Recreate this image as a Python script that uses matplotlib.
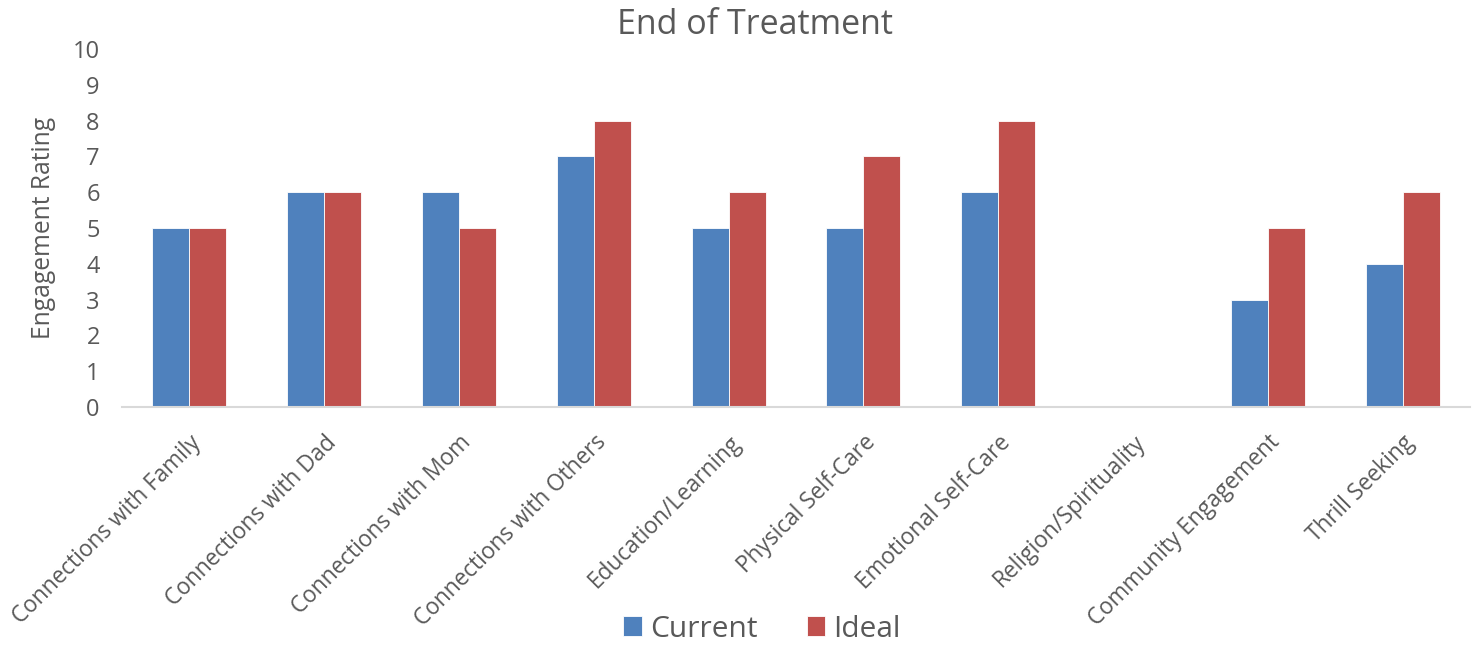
import matplotlib
matplotlib.use("Agg")
import matplotlib.pyplot as plt
import numpy as np

categories = [
    "Connections with Family", "Connections with Dad", "Connections with Mom",
    "Connections with Others", "Education/Learning", "Physical Self-Care",
    "Emotional Self-Care", "Religion/Spirituality", "Community Engagement",
    "Thrill Seeking",
]
current = [5, 6, 6, 7, 5, 5, 6, 0, 3, 4]
ideal = [5, 6, 5, 8, 6, 7, 8, 0, 5, 6]
y_ticks = list(range(0, 11))

BLUE = "#4F81BD"
RED = "#C0504D"
TEXT = "#595959"

plt.rcParams["font.family"] = ["Open Sans", "DejaVu Sans"]

fig = plt.figure(figsize=(14.74, 6.47), dpi=100)
ax = fig.add_axes([122 / 1474, 1 - 407 / 647, 1348 / 1474, 358 / 647])

x = np.arange(len(categories))
w = 0.275
ax.bar(x - w / 2, current, width=w, color=BLUE, edgecolor="white", linewidth=0.6, label="Current")
ax.bar(x + w / 2, ideal, width=w, color=RED, edgecolor="white", linewidth=0.6, label="Ideal")

ax.set_xlim(-0.5, len(categories) - 0.5)
ax.set_ylim(0, 10)
ax.set_yticks(y_ticks)
ax.tick_params(axis="y", length=0, labelsize=17, labelcolor=TEXT, pad=16)
ax.tick_params(axis="x", length=0, labelsize=16.3, labelcolor=TEXT, pad=17)
ax.set_xticks(x)
ax.set_xticklabels(categories, rotation=45, ha="right", va="top", rotation_mode="anchor")

for s in ["top", "right", "left"]:
    ax.spines[s].set_visible(False)
ax.spines["bottom"].set_color("#D9D9D9")
ax.spines["bottom"].set_linewidth(1.5)

ax.set_ylabel("Engagement Rating", fontsize=17.7, color=TEXT, labelpad=12)
fig.text(755 / 1474, 1 - 25 / 647, "End of Treatment", fontsize=24.5, color=TEXT,
         ha="center", va="center")

fig.legend(loc="lower center", bbox_to_anchor=(762 / 1474, -0.02), ncol=2, frameon=False,
           fontsize=21.5, labelcolor=TEXT, handlelength=0.62, handleheight=0.62,
           handletextpad=0.28, columnspacing=1.65, borderpad=0.05)

fig.savefig("out.png", dpi=100, facecolor="white")
